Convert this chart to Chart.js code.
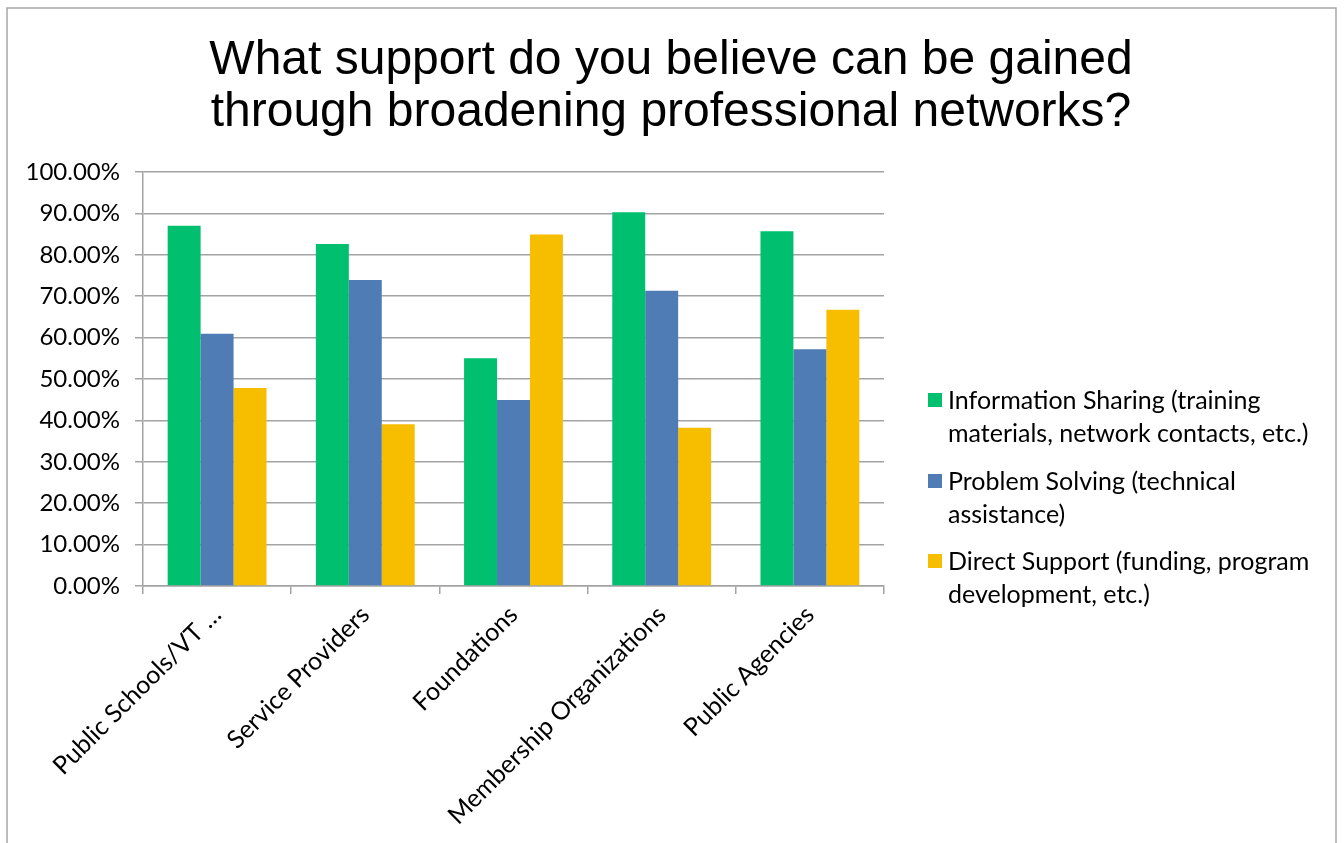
<!DOCTYPE html>
<html>
<head>
<meta charset="utf-8">
<script src="https://cdn.jsdelivr.net/npm/chart.js@4/dist/chart.umd.min.js"></script>
<style>
  html, body { margin: 0; padding: 0; background: #fff; }
  #wrap { width: 1344px; height: 843px; position: relative; }
</style>
</head>
<body>
<div id="wrap"><canvas id="c" width="1344" height="843"></canvas></div>
<script>
// Survey answers, percent of respondents per organisation type
const categories = ['Public Schools/VT …', 'Service Providers', 'Foundations', 'Membership Organizations', 'Public Agencies'];
const infoSharing    = [87.0, 82.6, 55.0, 90.3, 85.7];
const problemSolving = [60.9, 73.9, 44.9, 71.3, 57.2];
const directSupport  = [47.8, 39.1, 84.9, 38.2, 66.7];

const seriesNames = [
  ['Information Sharing (training', 'materials, network contacts, etc.)'],
  ['Problem Solving (technical', 'assistance)'],
  ['Direct Support (funding, program', 'development, etc.)']
];
const seriesColors = ['#00BF6F', '#4F7CB5', '#F7BE00'];
const titleLines = ['What support do you believe can be gained', 'through broadening professional networks?'];

const bodyFont = 'Lato, "Open Sans", sans-serif';
const gridColor = '#a3a3a3';

// White page with the thin grey frame around the whole chart
const framePlugin = {
  id: 'frame',
  beforeDraw(chart) {
    const ctx = chart.ctx;
    ctx.save();
    ctx.fillStyle = '#fff';
    ctx.fillRect(0, 0, chart.width, chart.height);
    ctx.strokeStyle = '#a6a6a6';
    ctx.lineWidth = 1.5;
    ctx.strokeRect(7, 8, 1329, 900);
    ctx.restore();
  }
};

// Two-line heading centred across the whole page
const headingPlugin = {
  id: 'heading',
  afterDraw(chart) {
    const ctx = chart.ctx;
    ctx.save();
    ctx.font = '48px "Liberation Sans", Arial, sans-serif';
    ctx.fillStyle = '#000';
    ctx.textAlign = 'center';
    ctx.textBaseline = 'alphabetic';
    titleLines.forEach((line, i) => ctx.fillText(line, 671, 74 + i * 52));
    ctx.restore();
  }
};

// Legend on the right, each entry wrapped onto two lines
const sideLegend = {
  id: 'sideLegend',
  afterDraw(chart) {
    const ctx = chart.ctx;
    const x = chart.chartArea.right + 44;
    const itemTops = [400, 481, 561];
    ctx.save();
    ctx.font = '25px ' + bodyFont;
    ctx.textBaseline = 'middle';
    ctx.textAlign = 'left';
    chart.data.datasets.forEach((ds, i) => {
      const y = itemTops[i];
      ctx.fillStyle = ds.backgroundColor;
      ctx.fillRect(x, y - 7, 14, 14);
      ctx.fillStyle = '#000';
      ds.legendLines.forEach((line, k) => ctx.fillText(line, x + 20, y + 1 + k * 33));
    });
    ctx.restore();
  }
};

new Chart(document.getElementById('c'), {
  type: 'bar',
  data: {
    labels: categories,
    datasets: [
      { label: seriesNames[0].join(' '), legendLines: seriesNames[0], data: infoSharing, backgroundColor: seriesColors[0] },
      { label: seriesNames[1].join(' '), legendLines: seriesNames[1], data: problemSolving, backgroundColor: seriesColors[1] },
      { label: seriesNames[2].join(' '), legendLines: seriesNames[2], data: directSupport, backgroundColor: seriesColors[2] }
    ]
  },
  options: {
    responsive: false,
    animation: false,
    devicePixelRatio: 1,
    datasets: { bar: { categoryPercentage: 0.667, barPercentage: 1.0 } },
    layout: { padding: { left: 0, right: 460, top: 172, bottom: 0 } },
    plugins: {
      legend: { display: false },
      tooltip: { enabled: false },
      title: { display: false }
    },
    scales: {
      x: {
        afterFit(scale) { scale.height = 257; },
        grid: { display: true, drawOnChartArea: false, drawTicks: true, tickLength: 8, offset: true, color: gridColor, lineWidth: 1.5 },
        border: { display: true, color: gridColor, width: 1.5 },
        ticks: { autoSkip: false, minRotation: 45, maxRotation: 45, padding: 6, color: '#000', font: { family: bodyFont, size: 25 } }
      },
      y: {
        min: 0,
        max: 100,
        afterFit(scale) { scale.width = 143; },
        grid: { color: gridColor, lineWidth: 1.5, tickLength: 8 },
        border: { display: true, color: gridColor, width: 1.5 },
        ticks: {
          stepSize: 10,
          padding: 15,
          color: '#000',
          font: { family: bodyFont, size: 24 },
          callback: v => v.toFixed(2) + '%'
        }
      }
    }
  },
  plugins: [framePlugin, headingPlugin, sideLegend]
});
</script>
</body>
</html>
